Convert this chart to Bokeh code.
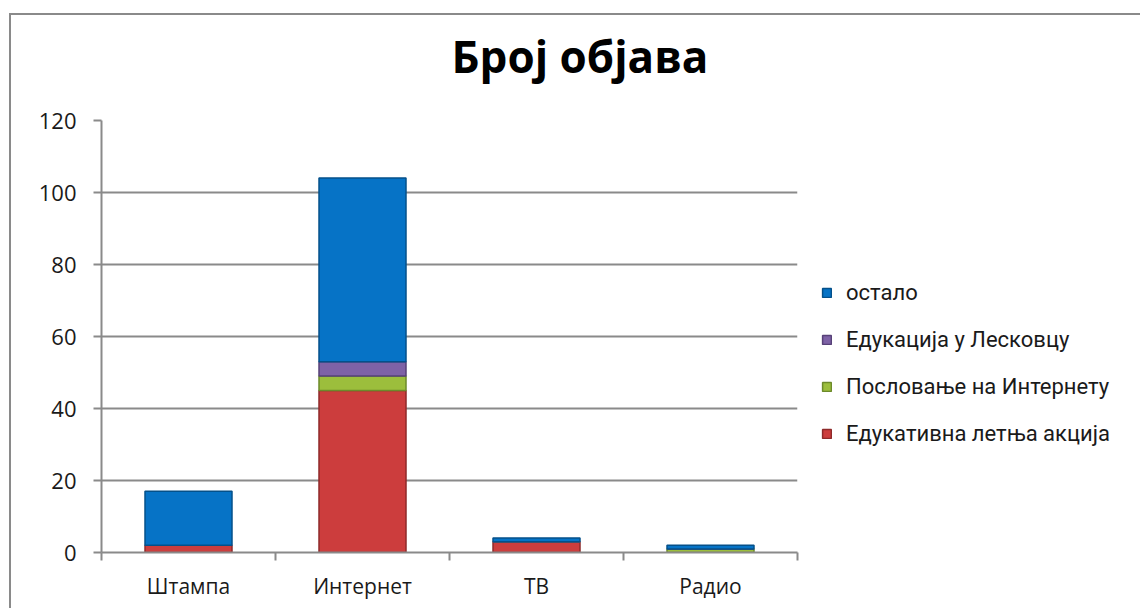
import numpy as np
from bokeh.plotting import figure
from bokeh.models import (ColumnDataSource, Range1d, FixedTicker, Legend, LegendItem, Title)
from bokeh.embed import file_html
from bokeh.resources import INLINE

categories = ["Штампа", "Интернет", "ТВ", "Радио"]
series_names = ["Едукативна летња акција", "Пословање на Интернету", "Едукација у Лесковцу", "остало"]
edukativna = [2, 45, 3, 0]
poslovanje = [0, 4, 0, 1]
edukacija = [0, 4, 0, 0]
ostalo = [15, 51, 1, 1]
y_ticks = [0, 20, 40, 60, 80, 100, 120]
title_text = "Број објава"

fill_colors = ["#CC3D3D", "#9CBE3C", "#7E62A6", "#0673C6"]
line_colors = ["#8E2A2A", "#6C8A2A", "#574178", "#04508A"]

xs = np.arange(len(categories)) + 0.5
keys = ["s0", "s1", "s2", "s3"]
source = ColumnDataSource(data=dict(x=xs, s0=edukativna, s1=poslovanje, s2=edukacija, s3=ostalo))

grey = "#8A8A8A"

p = figure(frame_width=696, frame_height=432, output_backend="svg", toolbar_location=None,
           x_range=Range1d(0, len(categories)), y_range=Range1d(0, 120),
           min_border_left=90, min_border_right=343, min_border_top=105, min_border_bottom=56)
p.styles = {"margin-left": "9px", "margin-top": "13px",
            "border-left": "2px solid " + grey, "border-top": "2px solid " + grey}
p.outline_line_color = None
p.background_fill_color = "white"
p.border_fill_color = "white"

renderers = p.vbar_stack(keys, x="x", width=0.5, source=source,
                         fill_color=fill_colors, line_color=line_colors, line_width=1.5)

# title: a spacer panel next to the frame, then the title above it
p.title.text = ""
p.add_layout(Title(text=" ", text_font="Open Sans", text_font_size="24px", standoff=0), "above")
p.add_layout(Title(text=title_text, align="left", offset=350, standoff=0,
                   text_font="Open Sans", text_font_style="bold", text_font_size="44px",
                   text_color="#000000"), "above")

# axes
p.xgrid.grid_line_color = None
p.ygrid.grid_line_color = grey
p.ygrid.grid_line_width = 2
p.yaxis.ticker = FixedTicker(ticks=y_ticks)
p.yaxis.axis_line_color = grey
p.yaxis.axis_line_width = 2
p.yaxis.major_tick_line_color = grey
p.yaxis.major_tick_line_width = 2
p.yaxis.major_tick_in = 0
p.yaxis.major_tick_out = 8
p.yaxis.minor_tick_line_color = None
p.yaxis.major_label_standoff = 17
p.yaxis.major_label_text_font = "Open Sans"
p.yaxis.major_label_text_font_size = "22px"
p.yaxis.major_label_text_color = "#1a1a1a"

p.xaxis.ticker = FixedTicker(ticks=list(xs), minor_ticks=list(range(len(categories) + 1)))
p.xaxis.major_label_overrides = {float(x): c for x, c in zip(xs, categories)}
p.xaxis.axis_line_color = grey
p.xaxis.axis_line_width = 2
p.xaxis.major_tick_line_color = None
p.xaxis.major_tick_in = 0
p.xaxis.major_tick_out = 0
p.xaxis.minor_tick_line_color = grey
p.xaxis.minor_tick_line_width = 2
p.xaxis.minor_tick_in = 0
p.xaxis.minor_tick_out = 8
p.xaxis.major_label_standoff = 11
p.xaxis.major_label_text_font = "Open Sans"
p.xaxis.major_label_text_font_size = "21px"
p.xaxis.major_label_text_color = "#1a1a1a"

# legend (top to bottom: reversed stack order)
items = [LegendItem(label=series_names[i], renderers=[renderers[i]]) for i in [3, 2, 1, 0]]
legend = Legend(items=items, location="center_left", orientation="vertical",
                glyph_width=11, glyph_height=11, label_standoff=14, spacing=22,
                padding=0, margin=24, border_line_color=None, background_fill_alpha=0,
                title=" ", title_text_font_size="22px", title_standoff=28,
                label_text_font="Roboto", label_text_font_size="22px", label_text_color="#1a1a1a")
p.add_layout(legend, "right")

open("out.html", "w").write(file_html(p, INLINE))
